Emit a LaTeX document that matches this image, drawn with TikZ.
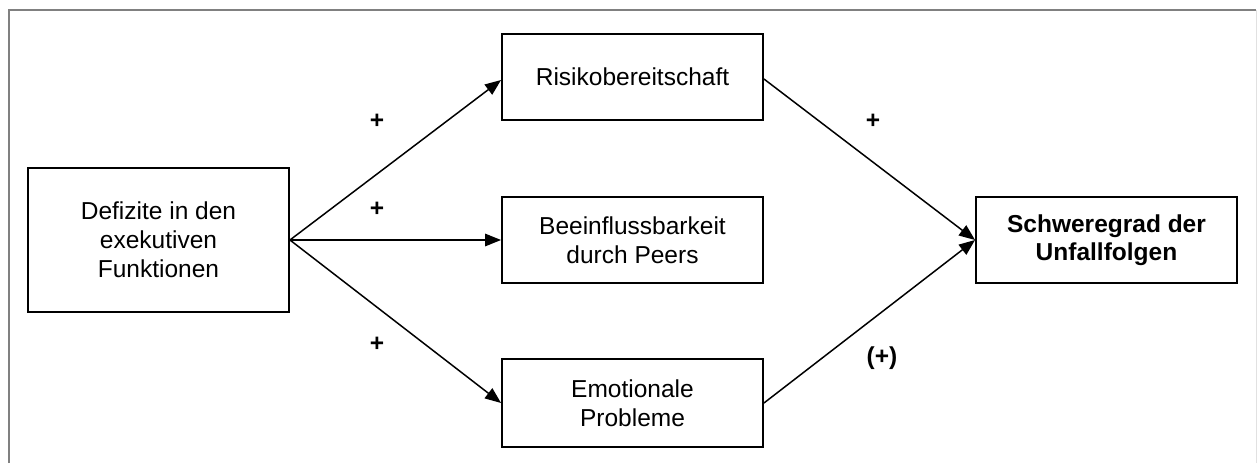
\documentclass[tikz,border=0pt]{standalone}
\usepackage{fontspec}
\setmainfont{Liberation Sans}
\usetikzlibrary{arrows.meta}
\begin{document}
\begin{tikzpicture}[x=1pt,y=-1pt,
  box/.style={draw=black, line width=1.9pt, inner sep=0pt, minimum width=261pt, align=center,
    font=\fontsize{24.5}{28.8}\selectfont},
  conn/.style={line width=1.5pt, -{Triangle[length=16pt,width=12.5pt]}},
  sign/.style={font=\fontsize{24.5}{28.5}\selectfont\bfseries, inner sep=0pt}]
\useasboundingbox (0,0) rectangle (1257,463);
\draw[line width=2pt, draw={rgb,255:red,128;green,128;blue,128}] (8.5,463) -- (8.5,10) -- (1256,10);
\draw[line width=1pt, draw={rgb,255:red,225;green,225;blue,225}] (1256,10) -- (1256,463);
\node[box, minimum height=144pt] (def) at (158.5,240) {Defizite in den\\exekutiven\\Funktionen};
\node[box, minimum height=86pt] (ris) at (632.5,77) {Risikobereitschaft};
\node[box, minimum height=86pt] (bee) at (632.5,240) {Beeinflussbarkeit\\durch Peers};
\node[box, minimum height=88pt] (emo) at (632.5,403) {Emotionale\\Probleme};
\node[box, minimum height=86pt, font=\fontsize{24.5}{28.5}\selectfont\bfseries] (sch) at (1106.5,240) {Schweregrad der\\Unfallfolgen};
\draw[conn] (def.east) -- ([yshift=-3pt]ris.west);
\draw[conn] (def.east) -- (bee.west);
\draw[conn] (def.east) -- (emo.west);
\draw[conn] ([yshift=-2pt]ris.east) -- (sch.west);
\draw[conn] (emo.east) -- (sch.west);
\node[sign] (p1) at (377,121) {+};
\node[sign] (p2) at (377,209) {+};
\node[sign] (p3) at (377,344) {+};
\node[sign] (p4) at (873,121) {+};
\node[sign] (p5) at (882,358) {(+)};
\end{tikzpicture}
\end{document}
